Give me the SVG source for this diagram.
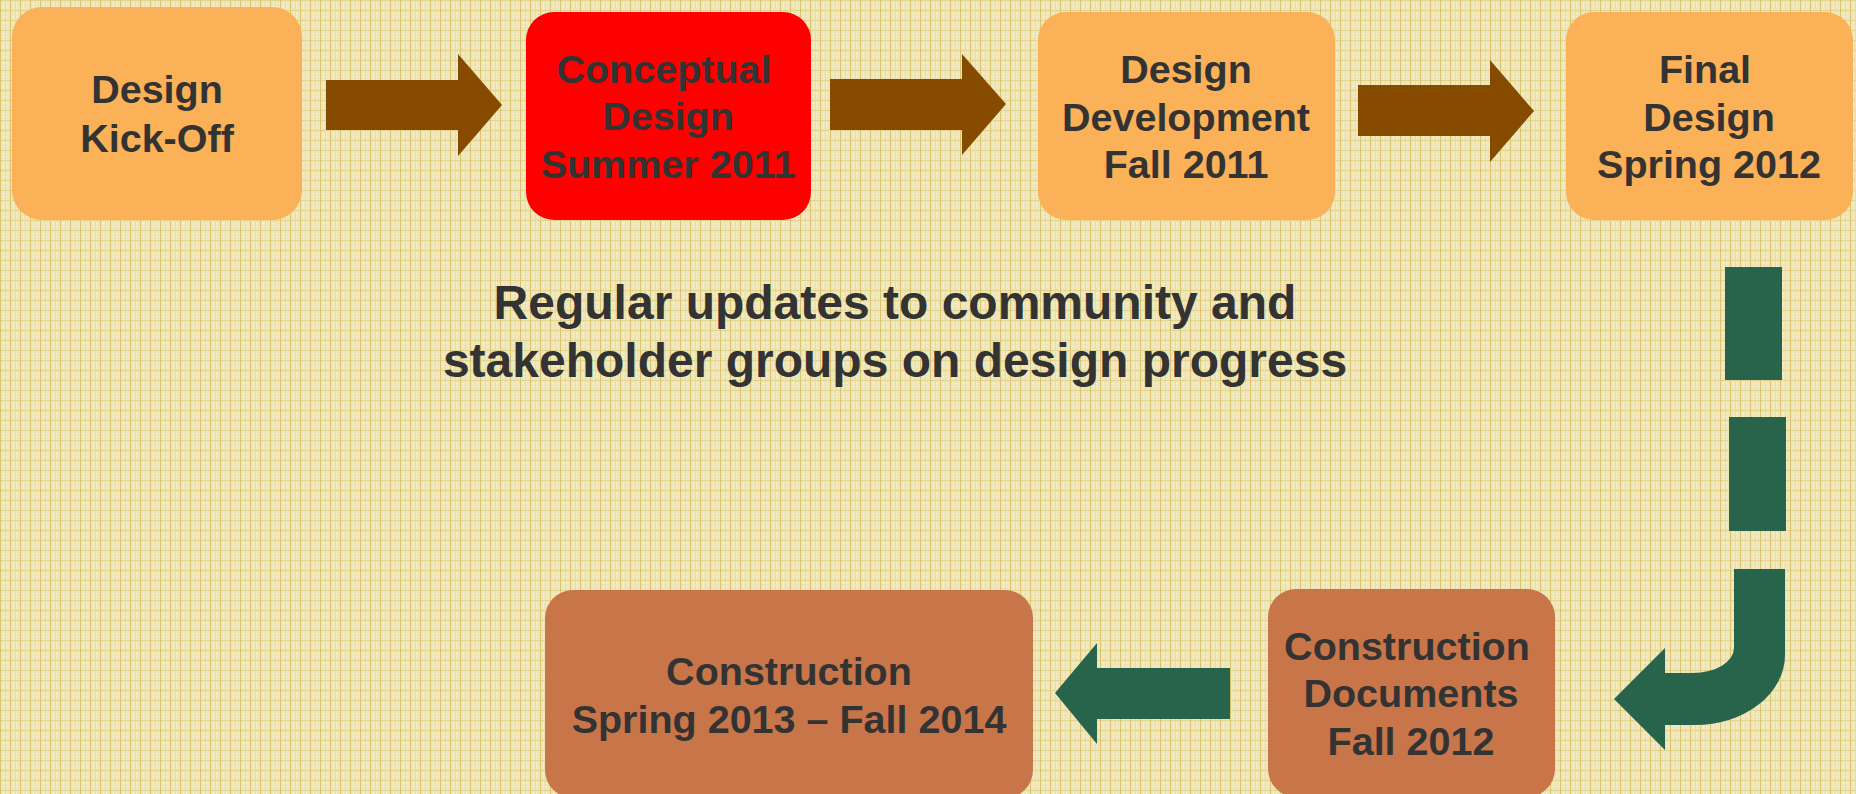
<svg xmlns="http://www.w3.org/2000/svg" width="1856" height="794" viewBox="0 0 1856 794">
  <defs>
    <pattern id="grid" x="0" y="0" width="10" height="10" patternUnits="userSpaceOnUse">
      <rect width="10" height="10" fill="#EFE6B9"/>
      <rect x="0" y="0" width="10" height="1" fill="#E2D48E"/>
      <rect x="0" y="0" width="1" height="10" fill="#D8C472"/>
      <rect x="3" y="3" width="1" height="1" fill="#FAF6E4"/>
      <rect x="6" y="3" width="1" height="1" fill="#FAF6E4"/>
      <rect x="3" y="6" width="1" height="1" fill="#FAF6E4"/>
      <rect x="6" y="6" width="1" height="1" fill="#FAF6E4"/>
      <rect x="5" y="0" width="1" height="10" fill="#E6DA9E" opacity="0.6"/>
    </pattern>
    <style>
      .orange { fill: #FBB157; }
      .red { fill: #FF0000; }
      .brown { fill: #C9754A; }
      .arrowBrown { fill: #874B00; }
      .arrowGreen { fill: #28634B; }
      .lbl { font-family: "Liberation Sans", Arial, Helvetica, sans-serif; font-weight: bold; font-size: 39.5px; fill: #333333; text-anchor: middle; }
      .note { font-family: "Liberation Sans", Arial, Helvetica, sans-serif; font-weight: bold; font-size: 48px; fill: #333333; text-anchor: middle; }
    </style>
  </defs>

  <rect width="1856" height="794" fill="url(#grid)"/>

  <g id="connectors">
    <path id="arrow1" class="arrowBrown" d="M326,80 L458,80 L458,54 L502,105 L458,156 L458,130 L326,130 Z"/>
    <path id="arrow2" class="arrowBrown" d="M830,79 L962,79 L962,54 L1006,104 L962,155 L962,130 L830,130 Z"/>
    <path id="arrow3" class="arrowBrown" d="M1358,85 L1490,85 L1490,60 L1534,111 L1490,162 L1490,136 L1358,136 Z"/>
    <rect id="dash1" class="arrowGreen" x="1725" y="267" width="57" height="113"/>
    <rect id="dash2" class="arrowGreen" x="1729" y="417" width="57" height="114"/>
    <path id="curvedArrow" class="arrowGreen" d="M1734,569 L1785,569 L1785,655 A90,70 0 0 1 1695,725 L1665,725 L1665,750 L1614,699 L1665,648 L1665,673 L1693,673 A41,25 0 0 0 1734,648 Z"/>
    <path id="arrow5" class="arrowGreen" d="M1230,668 L1097,668 L1097,643 L1055,693 L1097,744 L1097,719 L1230,719 Z"/>
  </g>

  <g id="node-kickoff">
    <rect class="orange" x="12" y="7" width="290" height="213" rx="30" ry="30"/>
    <text class="lbl" x="157" y="103">Design</text>
    <text class="lbl" x="157" y="152">Kick-Off</text>
  </g>

  <g id="node-conceptual">
    <rect class="red" x="526" y="12" width="285" height="208" rx="28" ry="28"/>
    <text class="lbl" x="664" y="83">Conceptual</text>
    <text class="lbl" x="668" y="130">Design</text>
    <text class="lbl" x="668" y="178">Summer 2011</text>
  </g>

  <g id="node-development">
    <rect class="orange" x="1038" y="12" width="297" height="208" rx="28" ry="28"/>
    <text class="lbl" x="1186" y="83">Design</text>
    <text class="lbl" x="1186" y="131">Development</text>
    <text class="lbl" x="1186" y="178">Fall 2011</text>
  </g>

  <g id="node-final">
    <rect class="orange" x="1566" y="12" width="287" height="208" rx="28" ry="28"/>
    <text class="lbl" x="1705" y="83">Final</text>
    <text class="lbl" x="1709" y="131">Design</text>
    <text class="lbl" x="1709" y="178">Spring 2012</text>
  </g>

  <g id="node-documents">
    <rect class="brown" x="1268" y="589" width="287" height="208" rx="28" ry="28"/>
    <text class="lbl" x="1407" y="660">Construction</text>
    <text class="lbl" x="1411" y="707">Documents</text>
    <text class="lbl" x="1411" y="755">Fall 2012</text>
  </g>

  <g id="node-construction">
    <rect class="brown" x="545" y="590" width="488" height="208" rx="28" ry="28"/>
    <text class="lbl" x="789" y="685">Construction</text>
    <text class="lbl" x="789" y="733">Spring 2013 – Fall 2014</text>
  </g>

  <g id="note">
    <text class="note" x="895" y="319">Regular updates to community and</text>
    <text class="note" x="895" y="377">stakeholder groups on design progress</text>
  </g>
</svg>
